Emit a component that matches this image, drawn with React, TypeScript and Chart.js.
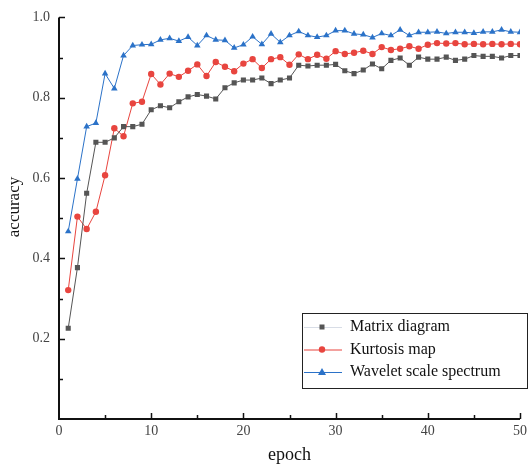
import React, { useEffect, useRef } from "react";
import { Chart, registerables } from "chart.js";

Chart.register(...registerables);

const epochs = [1,2,3,4,5,6,7,8,9,10,11,12,13,14,15,16,17,18,19,20,21,22,23,24,25,26,27,28,29,30,31,32,33,34,35,36,37,38,39,40,41,42,43,44,45,46,47,48,49,50];

const matrixDiagram = [0.226,0.377,0.562,0.689,0.689,0.700,0.728,0.728,0.734,0.770,
  0.780,0.775,0.790,0.802,0.808,0.804,0.797,0.825,0.837,0.844,
  0.844,0.849,0.835,0.844,0.849,0.881,0.879,0.881,0.881,0.883,
  0.867,0.860,0.869,0.884,0.872,0.893,0.899,0.881,0.901,0.896,
  0.896,0.901,0.893,0.896,0.905,0.903,0.903,0.899,0.905,0.905];

const kurtosisMap = [0.321,0.504,0.473,0.516,0.607,0.724,0.704,0.786,0.790,0.859,
  0.833,0.860,0.852,0.867,0.883,0.854,0.889,0.877,0.866,0.885,
  0.896,0.874,0.896,0.901,0.882,0.908,0.896,0.907,0.897,0.916,
  0.909,0.912,0.917,0.909,0.926,0.919,0.922,0.928,0.922,0.932,
  0.936,0.935,0.936,0.933,0.934,0.933,0.934,0.933,0.934,0.933];

const waveletSpectrum = [0.467,0.598,0.728,0.737,0.860,0.823,0.905,0.930,0.932,0.933,
  0.944,0.948,0.941,0.951,0.930,0.955,0.944,0.943,0.924,0.932,
  0.952,0.933,0.959,0.938,0.955,0.965,0.955,0.951,0.955,0.967,
  0.967,0.959,0.957,0.950,0.960,0.955,0.969,0.955,0.963,0.963,
  0.964,0.960,0.963,0.963,0.961,0.964,0.964,0.969,0.964,0.963];

const seriesNames = ["Matrix diagram", "Kurtosis map", "Wavelet scale spectrum"];
const seriesColors = ["#555555", "#e8453f", "#2b72c8"];
const legendLineColors = ["#d8dde6", "#e8453f", "#2b72c8"];
const seriesMarkers = ["rect", "circle", "triangle"];

const xTitle = "epoch";
const yTitle = "accuracy";

const axesPlugin = {
  id: "axesPlugin",
  afterDraw(chart: any) {
    const ctx = chart.ctx;
    const { left, right, top, bottom } = chart.chartArea;
    const xs = chart.scales.x;
    const ys = chart.scales.y;
    ctx.save();
    ctx.strokeStyle = "#111";
    ctx.lineWidth = 2;
    ctx.beginPath();
    ctx.moveTo(left, top);
    ctx.lineTo(left, bottom);
    ctx.lineTo(right, bottom);
    ctx.stroke();
    ctx.lineWidth = 1.5;
    for (let v = 0.1; v <= 1.0001; v += 0.1) {
      const y = Math.round(ys.getPixelForValue(v)) + 0.5;
      const major = Math.round(v * 10) % 2 === 0;
      ctx.beginPath();
      ctx.moveTo(left, y);
      ctx.lineTo(left + (major ? 6 : 4), y);
      ctx.stroke();
    }
    for (let v = 5; v <= 50; v += 5) {
      const x = Math.round(xs.getPixelForValue(v)) + 0.5;
      const major = v % 10 === 0;
      ctx.beginPath();
      ctx.moveTo(x, bottom);
      ctx.lineTo(x, bottom - (major ? 6 : 4));
      ctx.stroke();
    }
    // axis titles
    ctx.fillStyle = "#111";
    ctx.font = "18px 'Liberation Serif'";
    ctx.textAlign = "center";
    ctx.textBaseline = "middle";
    ctx.fillText(xTitle, (left + right) / 2, 455);
    ctx.save();
    ctx.translate(15, 207);
    ctx.rotate(-Math.PI / 2);
    ctx.font = "17px 'Liberation Serif'";
    ctx.fillText(yTitle, 0, 0);
    ctx.restore();
    // legend
    const bx = 302, by = 313, bw = 225, bh = 75;
    ctx.fillStyle = "#fff";
    ctx.fillRect(bx, by, bw, bh);
    ctx.strokeStyle = "#222";
    ctx.lineWidth = 1;
    ctx.strokeRect(bx + 0.5, by + 0.5, bw, bh);
    ctx.font = "16px 'Liberation Serif'";
    ctx.textBaseline = "middle";
    ctx.textAlign = "left";
    for (let i = 0; i < seriesNames.length; i++) {
      const cy = by + 14 + i * 22.5;
      ctx.strokeStyle = legendLineColors[i];
      ctx.lineWidth = 1;
      ctx.beginPath();
      ctx.moveTo(bx + 2, cy + 0.5);
      ctx.lineTo(bx + 40, cy + 0.5);
      ctx.stroke();
      ctx.fillStyle = seriesColors[i];
      const mx = bx + 20;
      if (seriesMarkers[i] === "rect") {
        ctx.fillRect(mx - 2.5, cy - 2.5, 5, 5);
      } else if (seriesMarkers[i] === "circle") {
        ctx.beginPath();
        ctx.arc(mx, cy, 3.2, 0, Math.PI * 2);
        ctx.fill();
      } else {
        ctx.beginPath();
        ctx.moveTo(mx, cy - 4);
        ctx.lineTo(mx + 4, cy + 3);
        ctx.lineTo(mx - 4, cy + 3);
        ctx.closePath();
        ctx.fill();
      }
      ctx.fillStyle = "#111";
      ctx.fillText(seriesNames[i], bx + 48, cy);
    }
    ctx.restore();
  },
};

export default function App() {
  const ref = useRef<HTMLCanvasElement>(null);
  useEffect(() => {
    document.body.style.margin = "0";
    const all = [matrixDiagram, kurtosisMap, waveletSpectrum];
    const chart = new Chart(ref.current as HTMLCanvasElement, {
      type: "line",
      data: {
        datasets: all.map((vals, i) => ({
          label: seriesNames[i],
          data: epochs.map((e, j) => ({ x: e, y: vals[j] })),
          borderColor: seriesColors[i],
          backgroundColor: seriesColors[i],
          borderWidth: 1,
          pointStyle: seriesMarkers[i] as any,
          pointRadius: i === 0 ? 3.6 : i === 1 ? 3.2 : 3.8,
          pointBorderWidth: 0,
          tension: 0,
        })),
      },
      options: {
        animation: false,
        responsive: true,
        maintainAspectRatio: false,
        layout: { padding: { top: 15, right: 6, left: 0, bottom: 0 } },
        plugins: { legend: { display: false }, tooltip: { enabled: false } },
        scales: {
          x: {
            type: "linear",
            min: 0,
            max: 50,
            grid: { display: false, drawTicks: false },
            border: { display: false },
            ticks: {
              stepSize: 10,
              padding: 4,
              color: "#444",
              font: { family: "'Liberation Serif'", size: 14 },
              maxRotation: 0,
            },
            afterFit: (s: any) => { s.height = 47; },
          },
          y: {
            min: 0,
            max: 1.0,
            grid: { display: false, drawTicks: false },
            border: { display: false },
            ticks: {
              stepSize: 0.2,
              padding: 9,
              color: "#444",
              font: { family: "'Liberation Serif'", size: 14 },
              callback: (v: any) => (Math.abs(v) < 1e-9 ? "" : Number(v).toFixed(1)),
            },
            afterFit: (s: any) => { s.width = 59; },
          },
        },
      },
      plugins: [axesPlugin],
    });
    return () => chart.destroy();
  }, []);
  return (
    <div style={{ width: 531, height: 466, position: "relative" }}>
      <canvas ref={ref} />
    </div>
  );
}
